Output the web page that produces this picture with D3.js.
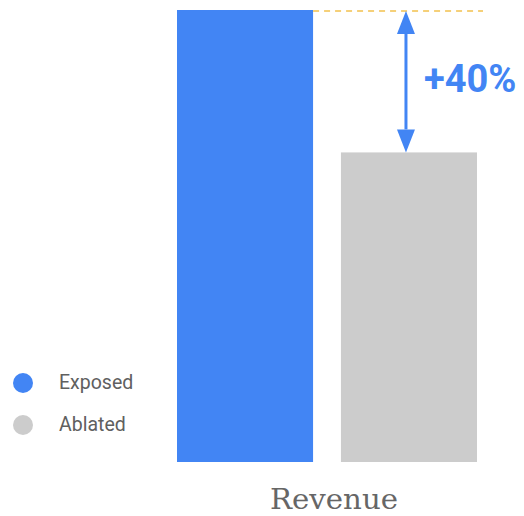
<!DOCTYPE html>
<html>
<head>
<meta charset="utf-8">
<script src="https://cdn.jsdelivr.net/npm/d3@7"></script>
<style>
  body { margin: 0; background: #fff; }
  svg { display: block; }
</style>
</head>
<body>
<svg id="chart" width="524" height="516"></svg>
<script>
// Data (relative revenue)
const categories = ["Exposed", "Ablated"];
const values = [146, 100];
const colors = ["#4285F4", "#CCCCCC"];
const liftLabel = "+40%";
const axisLabel = "Revenue";

const svg = d3.select("#chart");

const x = d3.scaleBand()
    .domain(categories)
    .range([177, 477])
    .paddingInner(0.17);

const y = d3.scaleLinear()
    .domain([0, d3.max(values)])
    .range([462, 10]);

// bars
svg.append("g")
    .selectAll("rect")
    .data(categories)
    .join("rect")
    .attr("x", d => x(d))
    .attr("width", x.bandwidth())
    .attr("y", (d, i) => y(values[i]))
    .attr("height", (d, i) => y(0) - y(values[i]))
    .attr("fill", (d, i) => colors[i]);

// dashed reference line at top of exposed bar
const topY = y(values[0]);
const x2 = x(categories[1]) + x.bandwidth() + 6;
svg.append("line")
    .attr("x1", x(categories[0]) + x.bandwidth())
    .attr("x2", x2)
    .attr("y1", topY + 1)
    .attr("y2", topY + 1)
    .attr("stroke", "#F2C14E")
    .attr("stroke-width", 1.5)
    .attr("stroke-dasharray", "6 5");

// double-headed arrow
const ax = x(categories[1]) + x.bandwidth() / 2 - 3;
const botY = y(values[1]);
const head = 23, hw = 9;
const blue = "#4285F4";
svg.append("line")
    .attr("x1", ax).attr("x2", ax)
    .attr("y1", topY + head).attr("y2", botY - head)
    .attr("stroke", blue)
    .attr("stroke-width", 3);
svg.append("path")
    .attr("d", `M${ax},${topY + 1}L${ax - hw},${topY + 1 + head}L${ax + hw},${topY + 1 + head}Z`)
    .attr("fill", blue);
svg.append("path")
    .attr("d", `M${ax},${botY}L${ax - hw},${botY - head}L${ax + hw},${botY - head}Z`)
    .attr("fill", blue);

svg.append("text")
    .attr("x", 424)
    .attr("y", 92)
    .attr("font-family", "Roboto, sans-serif")
    .attr("font-weight", 700)
    .attr("font-size", 38)
    .attr("fill", blue)
    .text(liftLabel);

// axis label
svg.append("text")
    .attr("x", 270)
    .attr("y", 509)
    .attr("font-family", "'DejaVu Serif', serif")
    .attr("font-size", 27)
    .attr("textLength", 128)
    .attr("lengthAdjust", "spacingAndGlyphs")
    .attr("fill", "#666")
    .text(axisLabel);

// legend
const legend = svg.append("g")
    .selectAll("g")
    .data(categories)
    .join("g")
    .attr("transform", (d, i) => `translate(23,${383 + i * 42})`);
legend.append("circle")
    .attr("r", 10)
    .attr("fill", (d, i) => colors[i]);
legend.append("text")
    .attr("x", 36)
    .attr("y", 6)
    .attr("font-family", "Roboto, sans-serif")
    .attr("font-size", 19.5)
    .attr("fill", "#606060")
    .text(d => d);
</script>
</body>
</html>
